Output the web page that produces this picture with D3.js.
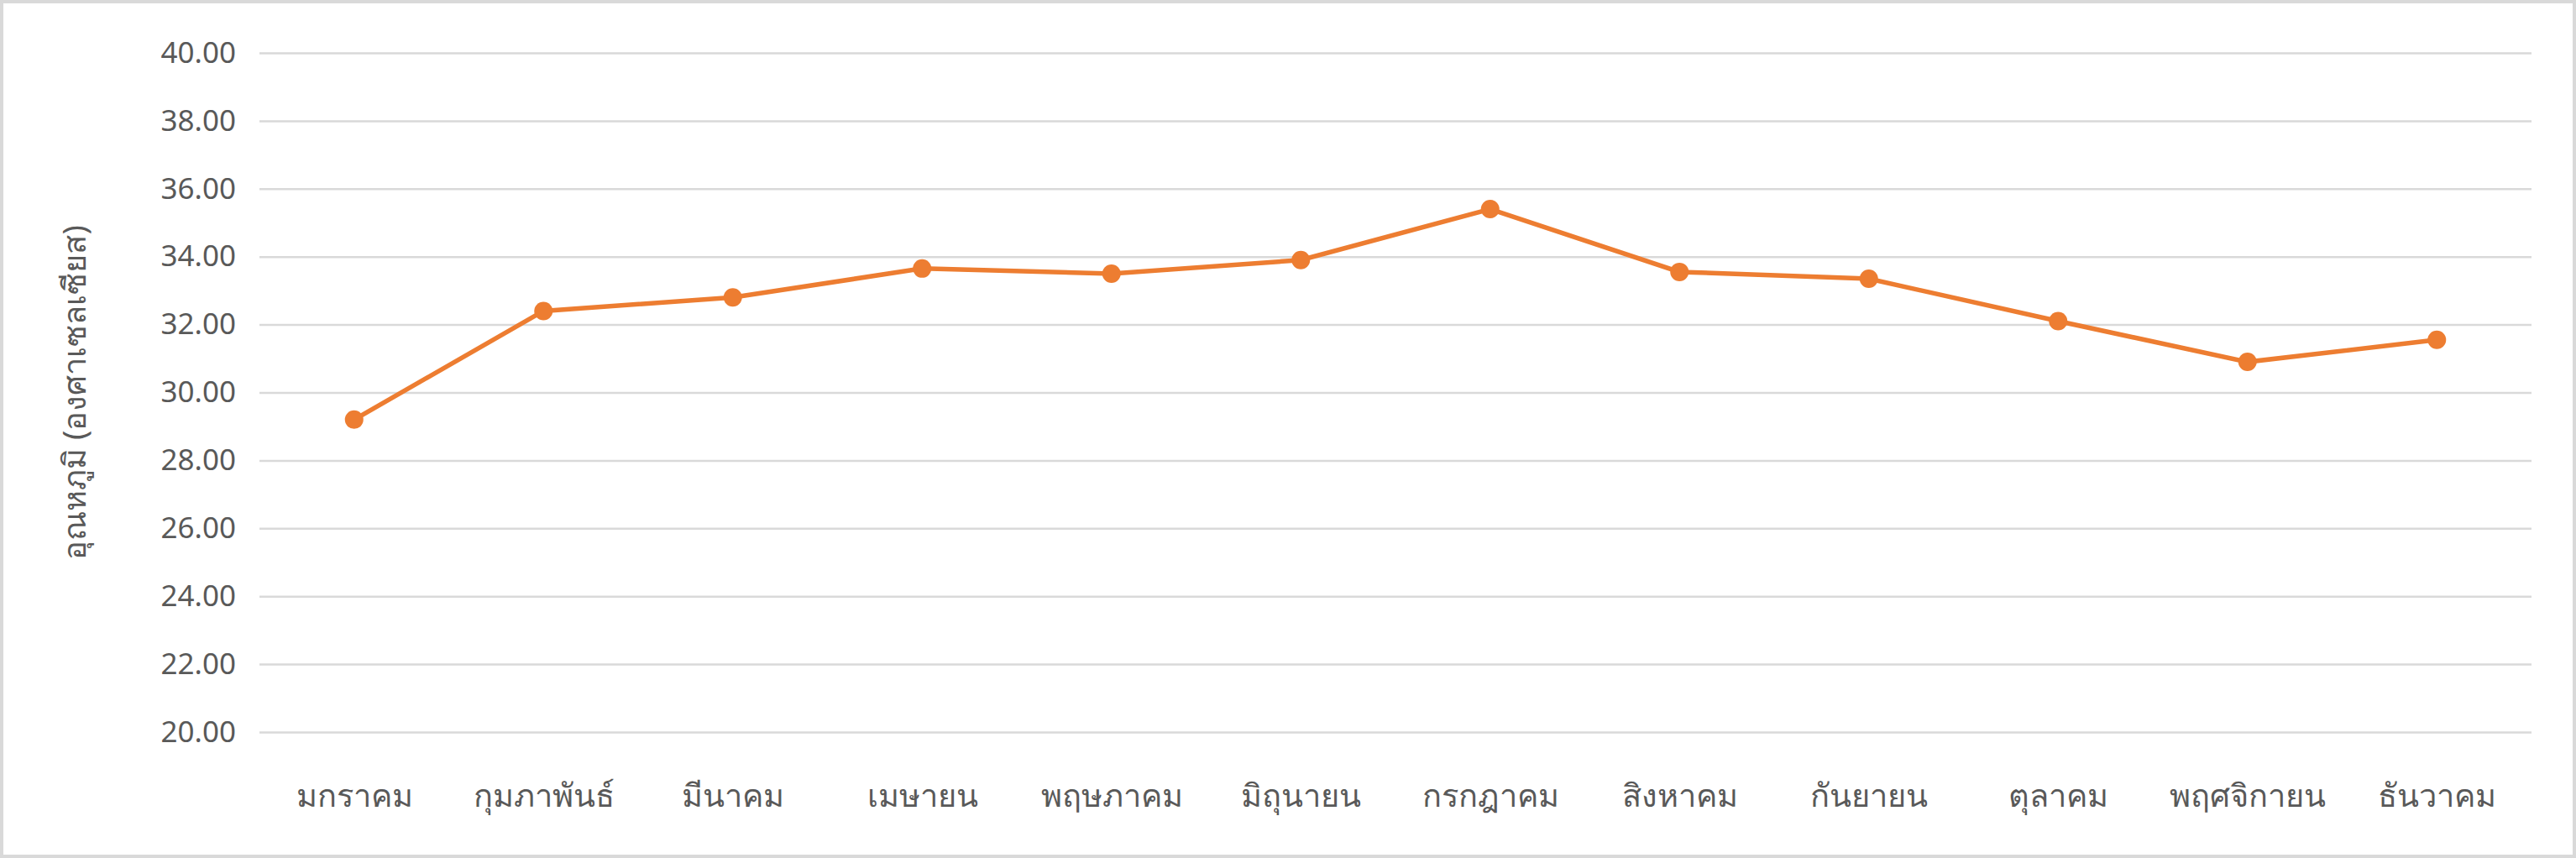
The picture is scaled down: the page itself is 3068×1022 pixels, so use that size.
<!DOCTYPE html>
<html><head><meta charset="utf-8">
<script src="https://cdn.jsdelivr.net/npm/d3@7"></script>
<style>body{margin:0;background:#fff}svg{display:block}</style>
</head><body>
<script>
const months = ["มกราคม","กุมภาพันธ์","มีนาคม","เมษายน","พฤษภาคม","มิถุนายน","กรกฎาคม","สิงหาคม","กันยายน","ตุลาคม","พฤศจิกายน","ธันวาคม"];
const temps = [29.2,32.4,32.8,33.65,33.5,33.9,35.4,33.55,33.35,32.1,30.9,31.55];
const yTicks = [20,22,24,26,28,30,32,34,36,38,40];
const yTitle = "อุณหภูมิ (องศาเซลเซียส)";

const W=3068,H=1022, L=309,R=3015,T=63,B=872;
const font='"Noto Sans", "DejaVu Sans", sans-serif';
const svg=d3.select("body").append("svg").attr("width",W).attr("height",H);
svg.append("rect").attr("x",2).attr("y",2).attr("width",W-4).attr("height",H-4).attr("fill","#fff").attr("stroke","#d9d9d9").attr("stroke-width",4);
const x=d3.scalePoint().domain(months).range([L,R]).padding(0.5);
const y=d3.scaleLinear().domain([20,40]).range([B,T]);
const ya=svg.append("g").attr("transform",`translate(${L},0)`).call(d3.axisLeft(y).tickValues(yTicks).tickSize(-(R-L)).tickPadding(28).tickFormat(d3.format(".2f")));
ya.select(".domain").remove();
ya.selectAll("line").attr("stroke","#d9d9d9").attr("stroke-width",2.5);
ya.selectAll("text").attr("fill","#595959").style("font-family",font).style("font-size","35px");
const xa=svg.append("g").attr("transform",`translate(0,${B})`).call(d3.axisBottom(x).tickSize(0).tickPadding(62));
xa.select(".domain").remove();
xa.selectAll("text").attr("fill","#595959").style("font-family",font).style("font-size","38px");
svg.append("text").attr("transform",`translate(102,${(T+B)/2}) rotate(-90)`).attr("text-anchor","middle").attr("fill","#595959").style("font-family",font).style("font-size","38px").text(yTitle);
svg.append("path").datum(temps).attr("fill","none").attr("stroke","#ED7D31").attr("stroke-width",5.5)
  .attr("d",d3.line().x((d,i)=>x(months[i])).y(d=>y(d)));
svg.selectAll("circle").data(temps).join("circle").attr("cx",(d,i)=>x(months[i])).attr("cy",d=>y(d)).attr("r",11).attr("fill","#ED7D31");
</script>
</body></html>
